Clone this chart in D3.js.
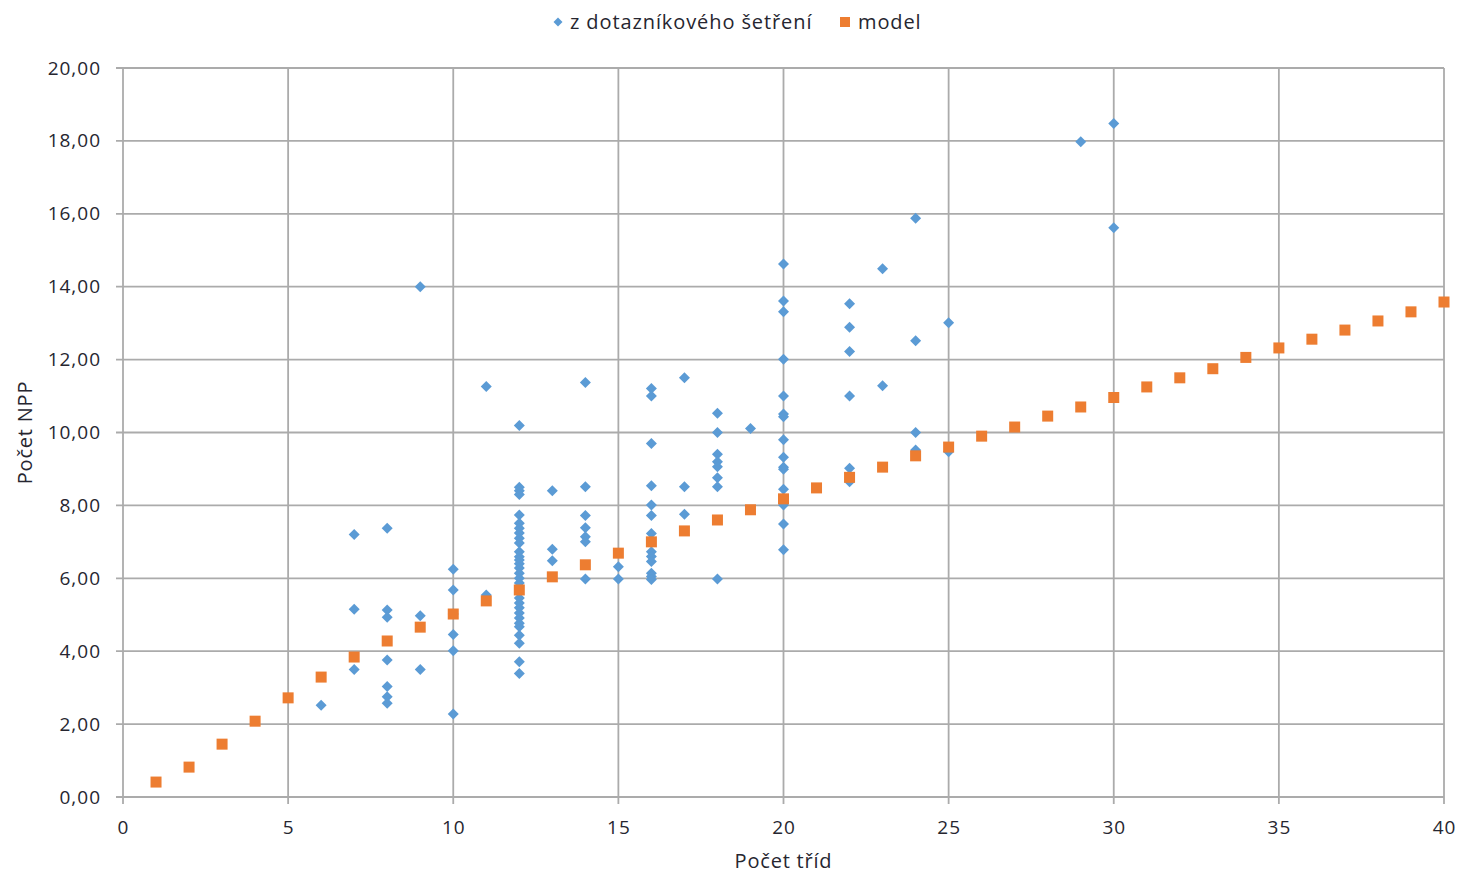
<!DOCTYPE html>
<html><head><meta charset="utf-8">
<script src="https://cdn.jsdelivr.net/npm/d3@7/dist/d3.min.js"></script>
<style>body{margin:0;background:#fff;} text{font-family:"Open Sans",sans-serif;fill:#262630;}</style>
</head><body><svg id="c" width="1459" height="875"></svg>
<script>
const seriesNames = ["z dotazníkového šetření", "model"];
const xTicks = [0,5,10,15,20,25,30,35,40];
const yTicks = [0,2,4,6,8,10,12,14,16,18,20];
const xTitle = "Počet tříd";
const yTitle = "Počet NPP";

const surveyX = [
 6,
 7,7,7,
 8,8,8,8,8,8,8,
 9,9,9,
 10,10,10,10,10,10,
 11,11,
 12,12,12,12,12,12,12,12,12,12,12,12,12,12,12,12,12,12,12,12,12,12,12,12,12,12,12,12,12,
 13,13,13,
 14,14,14,14,14,14,14,
 15,15,
 16,16,16,16,16,16,16,16,16,16,16,16,16,
 17,17,17,
 18,18,18,18,18,18,18,18,
 19,
 20,20,20,20,20,20,20,20,20,20,20,20,20,20,20,
 22,22,22,22,22,22,
 23,23,
 24,24,24,24,
 25,25,
 29,
 30,30
];
const surveyY = [
 2.52,
 7.2,5.15,3.5,
 7.37,5.13,4.93,3.76,3.03,2.75,2.57,
 14.0,4.97,3.5,
 6.25,5.68,5.02,4.46,4.01,2.28,
 11.26,5.54,
 10.19,8.5,8.4,8.3,7.74,7.51,7.37,7.24,7.1,6.97,6.73,6.59,6.5,6.4,6.28,6.14,6.0,5.87,5.46,5.32,5.19,5.05,4.91,4.77,4.67,4.44,4.22,3.71,3.39,
 8.4,6.8,6.48,
 11.37,8.51,7.72,7.39,7.14,7.0,5.98,
 6.32,5.98,
 11.21,11.0,9.7,8.54,8.01,7.72,7.23,6.73,6.6,6.46,6.14,6.05,5.97,
 11.5,8.51,7.76,
 10.53,10.0,9.4,9.2,9.06,8.76,8.51,5.98,
 10.11,
 14.62,13.61,13.31,12.01,11.0,10.51,10.43,9.8,9.32,9.05,8.99,8.44,8.01,7.49,6.78,
 13.53,12.89,12.22,11.0,9.02,8.65,
 14.49,11.28,
 15.88,12.52,10.0,9.52,
 13.01,9.47,
 17.98,
 18.48,15.62
];
const modelX = [1,2,3,4,5,6,7,8,9,10,11,12,13,14,15,16,17,18,19,20,21,22,23,24,25,26,27,28,29,30,31,32,33,34,35,36,37,38,39,40];
const modelY = [0.41,0.82,1.45,2.08,2.72,3.29,3.84,4.28,4.66,5.02,5.38,5.68,6.04,6.37,6.69,7.0,7.3,7.6,7.88,8.18,8.48,8.77,9.05,9.36,9.6,9.9,10.15,10.45,10.7,10.96,11.25,11.5,11.75,12.06,12.32,12.56,12.81,13.06,13.31,13.58];

const blue = "#5B9BD5", orange = "#ED7D31", grid = "#ababab";
const svg = d3.select("#c");
const L=123, R=1444, T=68, B=797;
const x = d3.scaleLinear().domain([0,40]).range([L,R]);
const y = d3.scaleLinear().domain([0,20]).range([B,T]);
const fmt = d => d.toFixed(2).replace(".", ",");

// grid
svg.append("g").selectAll("line").data(yTicks).join("line")
  .attr("x1",L-7).attr("x2",R).attr("y1",d=>y(d)).attr("y2",d=>y(d))
  .attr("stroke",grid).attr("stroke-width",1.8);
svg.append("g").selectAll("line").data(xTicks).join("line")
  .attr("x1",d=>x(d)).attr("x2",d=>x(d)).attr("y1",T).attr("y2",B+7)
  .attr("stroke",grid).attr("stroke-width",1.8);

const tickStyle = sel => sel.selectAll("text")
  .style("font-size","19px").style("letter-spacing","1px")
  .style("font-family","'Open Sans',sans-serif").attr("fill","#262630");
const yAxis = svg.append("g").attr("transform",`translate(${L-7},0)`)
  .call(d3.axisLeft(y).tickValues(yTicks).tickFormat(fmt).tickSize(0).tickPadding(15));
yAxis.select(".domain").remove();
tickStyle(yAxis);
const xAxis = svg.append("g").attr("transform",`translate(0,${B+7})`)
  .call(d3.axisBottom(x).tickValues(xTicks).tickFormat(d3.format("d")).tickSize(0).tickPadding(17));
xAxis.select(".domain").remove();
tickStyle(xAxis);

// axis titles
svg.append("text").attr("x",(L+R)/2).attr("y",868).attr("text-anchor","middle")
  .style("font-size","20px").style("letter-spacing","0.8px").text(xTitle);
svg.append("text").attr("transform",`translate(32,${(T+B)/2}) rotate(-90)`).attr("text-anchor","middle")
  .style("font-size","20px").style("letter-spacing","0.8px").text(yTitle);

// series
const diamondPath = s => `M0,${-s}L${s},0L0,${s}L${-s},0Z`;
const survey = surveyX.map((v,i)=>({x:v,y:surveyY[i]}));
svg.append("g").selectAll("path").data(survey).join("path")
  .attr("d",diamondPath(5.5)).attr("transform",d=>`translate(${x(d.x)},${y(d.y)})`).attr("fill",blue);
const model = modelX.map((v,i)=>({x:v,y:modelY[i]}));
svg.append("g").selectAll("rect").data(model).join("rect")
  .attr("x",d=>x(d.x)-5.5).attr("y",d=>y(d.y)-5.5).attr("width",11).attr("height",11).attr("fill",orange);

// legend
const lg = svg.append("g");
lg.append("path").attr("d",diamondPath(4.5)).attr("transform","translate(558,22)").attr("fill",blue);
lg.append("text").attr("x",570).attr("y",29).style("font-size","20px").style("letter-spacing","0.9px").text(seriesNames[0]);
lg.append("rect").attr("x",840).attr("y",17).attr("width",10).attr("height",10).attr("fill",orange);
lg.append("text").attr("x",858).attr("y",29).style("font-size","20px").style("letter-spacing","0.9px").text(seriesNames[1]);
</script></body></html>
